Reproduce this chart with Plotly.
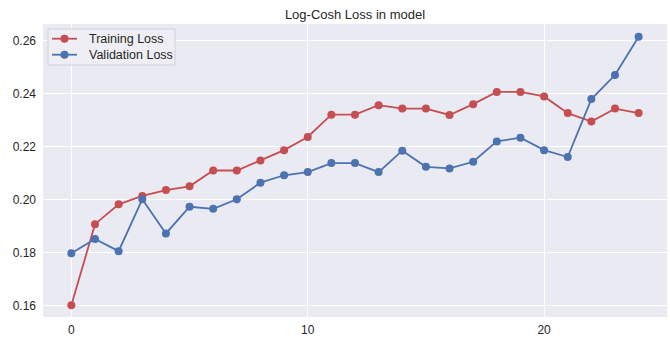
import plotly.graph_objects as go

# Epoch index and per-epoch log-cosh loss values
epochs = list(range(25))
training_loss = [0.1600, 0.1907, 0.1982, 0.2014, 0.2036, 0.2050, 0.2110, 0.2110,
                 0.2148, 0.2187, 0.2237, 0.2321, 0.2321, 0.2357, 0.2344, 0.2344,
                 0.2320, 0.2361, 0.2407, 0.2407, 0.2390, 0.2327, 0.2295, 0.2344,
                 0.2327]
validation_loss = [0.1797, 0.1851, 0.1805, 0.2001, 0.1872, 0.1973, 0.1965, 0.2001,
                   0.2064, 0.2092, 0.2104, 0.2138, 0.2138, 0.2104, 0.2185, 0.2124,
                   0.2118, 0.2143, 0.2220, 0.2234, 0.2187, 0.2161, 0.2380, 0.2471,
                   0.2616]
series_names = ["Training Loss", "Validation Loss"]
x_ticks = [0, 10, 20]
y_ticks = [0.16, 0.18, 0.20, 0.22, 0.24, 0.26]

RED = "#C44E52"
BLUE = "#4C72B0"
FONT = "Liberation Sans, Arial, sans-serif"
TEXT = "#262626"

W, H = 670, 339
M = dict(l=43, r=3, t=24, b=22)
PW = W - M["l"] - M["r"]
PH = H - M["t"] - M["b"]


def px(x):
    """Pixel column -> paper x fraction."""
    return (x - M["l"]) / PW


def py(y):
    """Pixel row -> paper y fraction."""
    return 1 - (y - M["t"]) / PH


fig = go.Figure()
for name, values, color in zip(series_names, [training_loss, validation_loss], [RED, BLUE]):
    fig.add_trace(go.Scatter(
        x=epochs, y=values, mode="lines+markers", name=name,
        line=dict(color=color, width=1.8), marker=dict(color=color, size=8),
        showlegend=False,
    ))

# Compact legend box drawn with shapes and annotations
shapes = [dict(
    type="rect", xref="paper", yref="paper",
    x0=px(48), x1=px(175), y0=py(65), y1=py(29),
    fillcolor="rgba(238,238,244,0.9)", line=dict(color="#D0D0DC", width=1),
    layer="above",
)]
annotations = []
for i, (name, color) in enumerate(zip(series_names, [RED, BLUE])):
    row = 38.7 + 16 * i
    shapes.append(dict(
        type="line", xref="paper", yref="paper",
        x0=px(52), x1=px(77), y0=py(row), y1=py(row),
        line=dict(color=color, width=1.8), layer="above",
    ))
    shapes.append(dict(
        type="circle", xref="paper", yref="paper",
        xsizemode="pixel", ysizemode="pixel",
        xanchor=px(64.5), yanchor=py(row), x0=-4, x1=4, y0=-4, y1=4,
        fillcolor=color, line=dict(color=color, width=0), layer="above",
    ))
    annotations.append(dict(
        text=name, xref="paper", yref="paper", x=px(87), y=py(row),
        xanchor="left", yanchor="middle", showarrow=False,
        font=dict(family=FONT, size=12.5, color=TEXT),
    ))

fig.update_layout(
    width=W, height=H,
    margin=M,
    paper_bgcolor="white",
    plot_bgcolor="#EAEAF2",
    font=dict(family=FONT, size=12, color=TEXT),
    title=dict(text="Log-Cosh Loss in model", x=0.5, xref="paper",
               y=1 - 14 / H, yref="container", yanchor="middle",
               font=dict(size=13, color=TEXT), automargin=False),
    showlegend=False,
    shapes=shapes,
    annotations=annotations,
    xaxis=dict(
        range=[-1.2, 25.2], tickvals=x_ticks, ticktext=[str(t) for t in x_ticks],
        showgrid=True, gridcolor="white", gridwidth=1, zeroline=False,
        showline=False, ticks="", tickfont=dict(size=12, color=TEXT),
        ticklabelstandoff=4, automargin=False,
    ),
    yaxis=dict(
        range=[0.1556, 0.2664], tickvals=y_ticks,
        ticktext=[f"{t:.2f}" for t in y_ticks],
        showgrid=True, gridcolor="white", gridwidth=1, zeroline=False,
        showline=False, ticks="", tickfont=dict(size=12, color=TEXT),
        ticklabelstandoff=6, automargin=False,
    ),
)

fig.write_html("out.html")
